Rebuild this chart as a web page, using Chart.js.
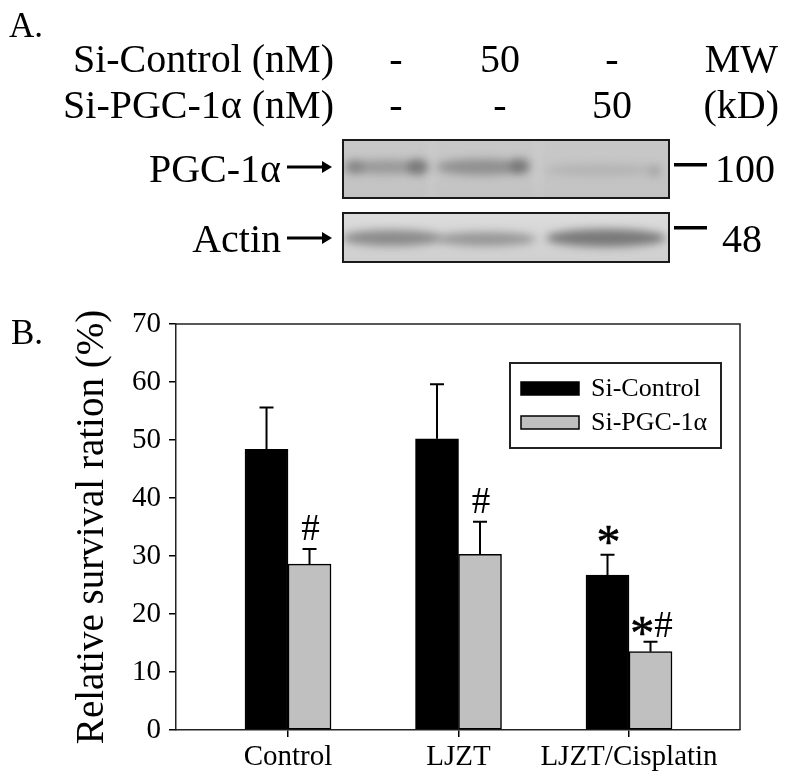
<!DOCTYPE html>
<html><head><meta charset="utf-8">
<script src="https://cdn.jsdelivr.net/npm/chart.js@4"></script>
<style>
html,body{margin:0;padding:0;background:#fff;}
#wrap{position:relative;width:788px;height:784px;overflow:hidden;}
#blot{position:absolute;left:0;top:0;}
#chart{position:absolute;left:0;top:0;}
</style></head><body>
<div id="wrap">
<canvas id="blot" width="788" height="784"></canvas>
<canvas id="chart" width="788" height="784"></canvas>
</div>
<script>
// ---- data ----
const categories = ['Control', 'LJZT', 'LJZT/Cisplatin'];
const seriesNames = ['Si-Control', 'Si-PGC-1α'];
const siControl = [48.4, 50.2, 26.7];
const siControlErr = [7.2, 9.4, 3.5];
const siPGC = [28.6, 30.3, 13.5];
const siPGCErr = [2.6, 5.6, 1.7];
const siControlSig = ['', '', '*'];
const siPGCSig = ['#', '#', '*#'];
const blotConcSiControl = ['-', '50', '-'];
const blotConcSiPGC = ['-', '-', '50'];
const blotMarkers = ['100', '48'];

const SERIF = "'Liberation Serif','Times New Roman',serif";

// ---- Panel A (western blot) + panel letters ----
(function drawBlot(){
  const b = document.getElementById('blot').getContext('2d');
  b.fillStyle = '#000';
  b.textBaseline = 'alphabetic';
  b.font = '35px ' + SERIF;
  b.textAlign = 'left';
  b.fillText('A.', 9, 37);
  b.fillText('B.', 11, 344);
  b.font = '40px ' + SERIF;
  b.textAlign = 'right';
  b.fillText('Si-Control (nM)', 334, 72);
  b.fillText('Si-PGC-1α (nM)', 334, 118);
  const lanes = [396, 500, 612];
  b.textAlign = 'center';
  blotConcSiControl.forEach((t, i) => b.fillText(t, lanes[i], 72));
  blotConcSiPGC.forEach((t, i) => b.fillText(t, lanes[i], 118));
  b.textAlign = 'right';
  b.fillText('MW', 778, 72);
  b.fillText('(kD)', 779, 118);
  b.fillText('PGC-1α', 281, 182);
  b.fillText('Actin', 281, 252);
  function arrow(y){
    b.fillStyle = '#000';
    b.fillRect(287, y - 1.5, 36, 3);
    b.beginPath(); b.moveTo(322, y - 6); b.lineTo(332, y); b.lineTo(322, y + 6); b.closePath(); b.fill();
  }
  arrow(167); arrow(238);
  function panel(x, y, w, h, bgTop, bgBot, bands){
    b.save();
    b.beginPath(); b.rect(x, y, w, h); b.clip();
    const g = b.createLinearGradient(0, y, 0, y + h);
    g.addColorStop(0, bgTop); g.addColorStop(1, bgBot);
    b.fillStyle = g; b.fillRect(x, y, w, h);
    b.filter = 'blur(4px)';
    bands.forEach(([cx, cy, rw, rh, col]) => {
      b.fillStyle = col; b.beginPath(); b.ellipse(cx, cy, rw, rh, 0, 0, Math.PI * 2); b.fill();
    });
    b.filter = 'none';
    b.restore();
    b.lineWidth = 2; b.strokeStyle = '#1a1a1a'; b.strokeRect(x, y, w, h);
  }
  panel(343, 140, 326, 58, '#c8c8c8', '#c3c3c3', [
    [431, 170, 4, 40, 'rgba(220,220,220,0.25)'],
    [538, 170, 4, 40, 'rgba(220,220,220,0.25)'],
    [386, 167, 40, 7, 'rgba(110,110,110,0.5)'],
    [354, 167, 10, 7, 'rgba(100,100,100,0.45)'],
    [418, 167, 11, 8, 'rgba(85,85,85,0.55)'],
    [482, 167, 46, 8, 'rgba(100,100,100,0.55)'],
    [520, 166, 10, 8, 'rgba(85,85,85,0.5)'],
    [600, 170, 55, 6, 'rgba(140,140,140,0.3)'],
    [655, 171, 6, 6, 'rgba(120,120,120,0.4)']
  ]);
  panel(343, 213, 326, 49, '#dcdcdc', '#cfcfcf', [
    [392, 238, 50, 8, 'rgba(120,120,120,0.8)'],
    [486, 239, 50, 7, 'rgba(130,130,130,0.75)'],
    [606, 238, 60, 9, 'rgba(105,105,105,0.85)']
  ]);
  b.fillStyle = '#000';
  b.fillRect(674, 163, 33, 3.5);
  b.fillRect(674, 226, 33, 3.5);
  b.textAlign = 'left';
  b.fillText(blotMarkers[0], 715, 182);
  b.fillText(blotMarkers[1], 722, 252);
})();

// ---- Panel B (bar chart) ----
Chart.defaults.font.family = SERIF;
Chart.defaults.color = '#000';

const extras = {
  id: 'extras',
  afterDatasetsDraw(chart) {
    const ctx = chart.ctx;
    const y = chart.scales.y;
    const area = chart.chartArea;
    ctx.save();
    // frame: top and right
    ctx.strokeStyle = '#222'; ctx.lineWidth = 1.5;
    ctx.beginPath();
    ctx.moveTo(area.left, area.top); ctx.lineTo(area.right, area.top); ctx.lineTo(area.right, area.bottom);
    ctx.stroke();
    // error bars + significance marks
    chart.data.datasets.forEach((ds, di) => {
      const meta = chart.getDatasetMeta(di);
      meta.data.forEach((bar, i) => {
        const v = ds.data[i].y;
        const top = y.getPixelForValue(v + ds.err[i]);
        ctx.strokeStyle = '#000'; ctx.lineWidth = 2;
        ctx.beginPath();
        ctx.moveTo(bar.x, bar.y); ctx.lineTo(bar.x, top);
        ctx.moveTo(bar.x - 7, top); ctx.lineTo(bar.x + 7, top);
        ctx.stroke();
        const s = ds.sig[i];
        if (s) {
          const parts = s.split('').map(ch => ({ch, font: ch === '*' ? '48px ' + SERIF : '37px ' + SERIF, dy: ch === '*' ? 12 : 0}));
          let total = 0;
          parts.forEach(p => { ctx.font = p.font; p.w = ctx.measureText(p.ch).width; total += p.w; });
          const base = top - (s === '*#' ? 5 : 9);
          let x = bar.x - total / 2 + 1;
          ctx.fillStyle = '#000'; ctx.textAlign = 'left'; ctx.textBaseline = 'alphabetic';
          parts.forEach(p => {
            ctx.font = p.font;
            ctx.fillText(p.ch, x, base + p.dy);
            if (p.ch === '*') { ctx.strokeStyle = '#000'; ctx.lineWidth = 0.6; ctx.strokeText(p.ch, x, base + p.dy); }
            x += p.w;
          });
        }
      });
    });
    // legend
    const lx = area.right - 230, ly = area.top + 39;
    ctx.strokeStyle = '#222'; ctx.lineWidth = 2;
    ctx.strokeRect(lx, ly, 211, 85);
    chart.data.datasets.forEach((ds, di) => {
      const sy = ly + 19 + di * 34;
      ctx.fillStyle = ds.backgroundColor;
      ctx.fillRect(lx + 11, sy, 58, 13);
      ctx.strokeStyle = '#000'; ctx.lineWidth = 1.5;
      ctx.strokeRect(lx + 11, sy, 58, 13);
      ctx.fillStyle = '#000';
      ctx.font = '26px ' + SERIF;
      ctx.textAlign = 'left'; ctx.textBaseline = 'middle';
      ctx.fillText(ds.label, lx + 81, sy + 7);
    });
    ctx.restore();
  }
};

new Chart(document.getElementById('chart'), {
  type: 'bar',
  data: {
    datasets: [
      { label: seriesNames[0], data: siControl.map((v, i) => ({x: i, y: v})), err: siControlErr, sig: siControlSig,
        backgroundColor: '#000000', borderColor: '#000', borderWidth: 1.5, borderSkipped: false, barThickness: 43 },
      { label: seriesNames[1], data: siPGC.map((v, i) => ({x: i, y: v})), err: siPGCErr, sig: siPGCSig,
        backgroundColor: '#c0c0c0', borderColor: '#000', borderWidth: 1.5, borderSkipped: false, barThickness: 43 }
    ]
  },
  options: {
    responsive: false,
    animation: false,
    devicePixelRatio: 1,
    layout: { padding: { top: 324, right: 48, bottom: 0, left: 0 } },
    plugins: { legend: { display: false }, tooltip: { enabled: false } },
    scales: {
      x: {
        type: 'linear', min: -0.657, max: 2.651, offset: false,
        afterBuildTicks: s => { s.ticks = categories.map((c, i) => ({ value: i })); },
        afterFit: s => { s.height = 54; },
        ticks: { callback: v => categories[v], font: { size: 29 }, padding: 3, autoSkip: false, maxRotation: 0 },
        grid: { offset: false, drawOnChartArea: false, drawTicks: true, tickLength: 7, color: '#000', lineWidth: 1.5 },
        border: { display: true, color: '#222', width: 1.5 }
      },
      y: {
        min: 0, max: 70,
        afterFit: s => { s.width = 176; },
        ticks: { stepSize: 10, font: { size: 29 }, padding: 8 },
        grid: { drawOnChartArea: false, drawTicks: true, tickLength: 7, color: '#000', lineWidth: 1.5 },
        border: { display: true, color: '#222', width: 1.5 },
        title: { display: true, text: 'Relative survival ration (%)', font: { size: 39 }, padding: { top: 69, bottom: 0 } }
      }
    }
  },
  plugins: [extras]
});
</script>
</body></html>
